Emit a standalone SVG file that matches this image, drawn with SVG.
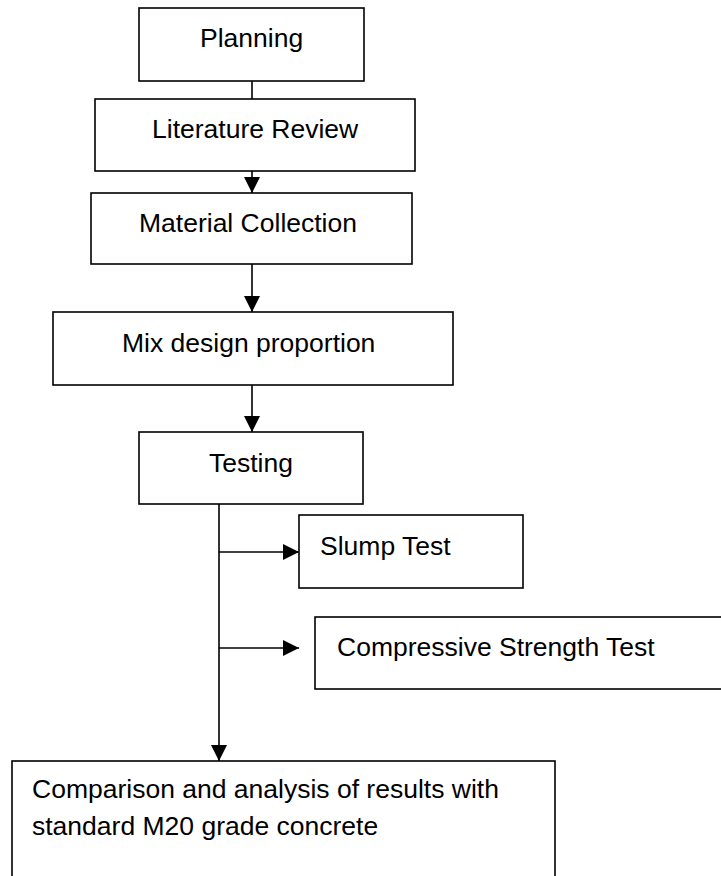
<svg xmlns="http://www.w3.org/2000/svg" width="721" height="876" viewBox="0 0 721 876">
<style>
.box{fill:#fff;stroke:#000;stroke-width:1.6}
.lbl{font-family:"Liberation Sans",Arial,sans-serif;font-size:26.5px;fill:#000}
.con{stroke:#000;stroke-width:1.6;fill:none}
</style>
<defs>
<marker id="ah" markerUnits="userSpaceOnUse" markerWidth="16" markerHeight="16" refX="16" refY="8" orient="auto">
<path d="M0,0 L16,8 L0,16 z" fill="#000"/>
</marker>
</defs>
<rect width="721" height="876" fill="#fff"/>
<g id="connectors">
<line class="con" x1="252" y1="81" x2="252" y2="99"/>
<line class="con" x1="252" y1="171" x2="252" y2="193" marker-end="url(#ah)"/>
<line class="con" x1="252" y1="264" x2="252" y2="312" marker-end="url(#ah)"/>
<line class="con" x1="252" y1="385" x2="252" y2="432" marker-end="url(#ah)"/>
<line class="con" x1="219" y1="504" x2="219" y2="761" marker-end="url(#ah)"/>
<line class="con" x1="219" y1="552" x2="299" y2="552" marker-end="url(#ah)"/>
<line class="con" x1="219" y1="648" x2="299" y2="648" marker-end="url(#ah)"/>
</g>
<g id="planning">
<rect class="box" x="139" y="8" width="225" height="73"/>
<text class="lbl" x="200" y="47">Planning</text>
</g>
<g id="literature">
<rect class="box" x="95" y="99" width="320" height="72"/>
<text class="lbl" x="152" y="138">Literature Review</text>
</g>
<g id="material">
<rect class="box" x="91" y="193" width="321" height="71"/>
<text class="lbl" x="139" y="232">Material Collection</text>
</g>
<g id="mix">
<rect class="box" x="53" y="312" width="400" height="73"/>
<text class="lbl" x="122" y="352">Mix design proportion</text>
</g>
<g id="testing">
<rect class="box" x="139" y="432" width="224" height="72"/>
<text class="lbl" x="209" y="472">Testing</text>
</g>
<g id="slump">
<rect class="box" x="299" y="515" width="224" height="73"/>
<text class="lbl" x="320" y="555">Slump Test</text>
</g>
<g id="compressive">
<rect class="box" x="315" y="617" width="420" height="72"/>
<text class="lbl" x="337" y="656">Compressive Strength Test</text>
</g>
<g id="comparison">
<rect class="box" x="12" y="761" width="543" height="130"/>
<text class="lbl" x="32" y="798">Comparison and analysis of results with</text>
<text class="lbl" x="32" y="835">standard M20 grade concrete</text>
</g>
</svg>
